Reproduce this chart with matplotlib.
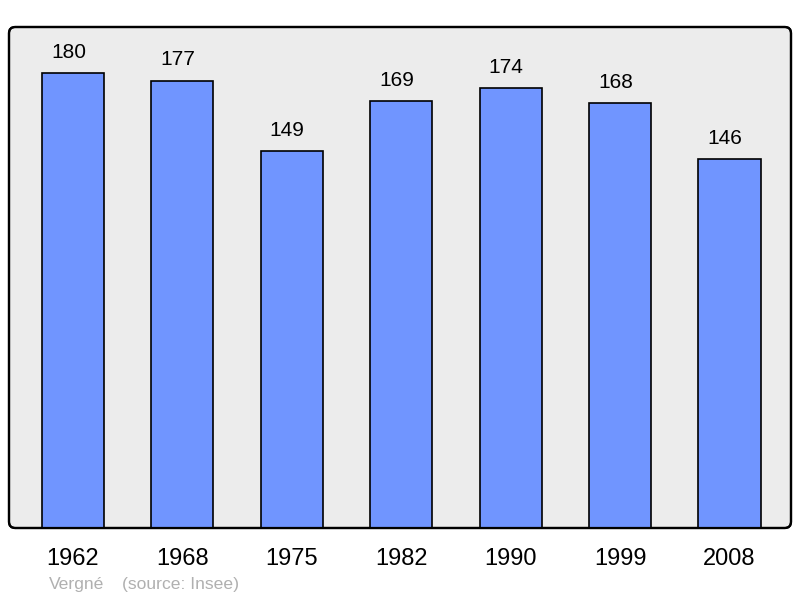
import matplotlib
matplotlib.use("Agg")
import matplotlib.pyplot as plt
from matplotlib.patches import FancyBboxPatch

years = ["1962", "1968", "1975", "1982", "1990", "1999", "2008"]
population = [180, 177, 149, 169, 174, 168, 146]
commune = "Vergné"
source = "(source: Insee)"

plt.rcParams['font.family'] = ['Liberation Sans', 'DejaVu Sans']

fig = plt.figure(figsize=(8, 5.98), dpi=100)
ax = fig.add_axes([9/800, 70/598, 782/800, 501/598])
ax.set_facecolor('none')
x = list(range(len(years)))
ax.bar(x, population, width=0.567, color='#7095ff', edgecolor='#000000', linewidth=1.2, zorder=2)
ax.set_xlim(-0.585, 6.562)
ax.set_ylim(0, 198.2)
for xi, v in zip(x, population):
    ax.annotate(str(v), (xi, v), xytext=(-3.3, 8), textcoords='offset points',
                ha='center', va='bottom', fontsize=15, color='#000000')
for s in ax.spines.values():
    s.set_visible(False)
ax.set_xticks(x)
ax.set_xticklabels(years, fontsize=17)
ax.tick_params(axis='x', length=0, pad=14.5)
ax.set_yticks([])

frame = FancyBboxPatch((0, 0), 1, 1, boxstyle="round,pad=0,rounding_size=0.008",
                       transform=ax.transAxes, facecolor='#ececec', edgecolor='#000000',
                       linewidth=1.6, zorder=0, clip_on=False, mutation_aspect=782/501)
ax.add_patch(frame)
frame2 = FancyBboxPatch((0, 0), 1, 1, boxstyle="round,pad=0,rounding_size=0.008",
                       transform=ax.transAxes, facecolor='none', edgecolor='#000000',
                       linewidth=1.6, zorder=3, clip_on=False, mutation_aspect=782/501)
ax.add_patch(frame2)

fig.text(49/800, 1 - 584/598, commune, fontsize=12.6, color='#b0b0b0', ha='left', va='center')
fig.text(122/800, 1 - 584/598, source, fontsize=12.6, color='#b0b0b0', ha='left', va='center')

fig.savefig('out.png', dpi=100)
